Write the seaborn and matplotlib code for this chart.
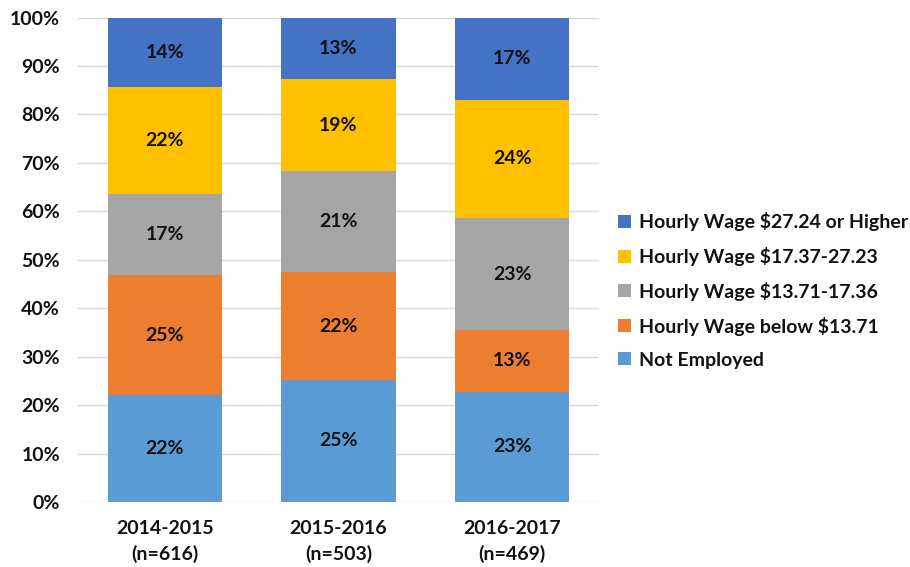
import numpy as np
import pandas as pd
import matplotlib
matplotlib.use("Agg")
import matplotlib.pyplot as plt
from matplotlib.patches import Patch
import seaborn as sns

# share of students per wage band (percent), bottom to top
years = ["2014-2015\n(n=616)", "2015-2016\n(n=503)", "2016-2017\n(n=469)"]
not_employed = [22.1, 25.2, 22.8]
below_1371 = [24.7, 22.2, 12.7]
wage_1371_1736 = [16.8, 20.9, 23.1]
wage_1737_2723 = [22.0, 19.0, 24.4]
wage_2724_up = [14.4, 12.7, 17.0]

series = ["Not Employed", "Hourly Wage below $13.71", "Hourly Wage $13.71-17.36",
          "Hourly Wage $17.37-27.23", "Hourly Wage $27.24 or Higher"]
colors = ["#5B9BD5", "#ED7D31", "#A5A5A5", "#FFC000", "#4472C4"]

df = pd.DataFrame({"year": years, series[0]: not_employed, series[1]: below_1371,
                   series[2]: wage_1371_1736, series[3]: wage_1737_2723,
                   series[4]: wage_2724_up})
cum = df[series].cumsum(axis=1)

sns.set_style("white")
plt.rcParams["font.family"] = ["Lato", "DejaVu Sans"]
plt.rcParams["font.weight"] = "bold"

fig = plt.figure(figsize=(9.1, 5.67), dpi=100)
ax = fig.add_axes([0.0857, 0.1146, 0.5725, 0.8545])

# draw cumulative totals from the top layer down so lower layers sit on top
for s, c in reversed(list(zip(series, colors))):
    sns.barplot(x=df["year"], y=cum[s], color=c, width=0.66, ax=ax,
                saturation=1, linewidth=0, zorder=2)

# segment labels
for i in range(len(years)):
    bottom = 0
    for s in series:
        v = df.loc[i, s]
        ax.text(i, bottom + v / 2, f"{v:.0f}%", ha="center", va="center",
                fontsize=14, fontweight="bold", color="#111111", zorder=3)
        bottom += v

ax.set_ylim(0, 100)
ax.set_xlim(-0.5, 2.5)
ax.set_yticks(np.arange(0, 101, 10))
ax.set_yticklabels([f"{t}%" for t in range(0, 101, 10)])
ax.yaxis.grid(True, color="#D9D9D9", linewidth=1)
ax.set_axisbelow(True)
for sp in ax.spines.values():
    sp.set_visible(False)
ax.tick_params(axis="both", length=0, labelsize=14, colors="#111111")
ax.tick_params(axis="y", pad=13)
ax.tick_params(axis="x", pad=13)
for lbl in ax.get_xticklabels():
    lbl.set_linespacing(1.5)
ax.set_xlabel("")
ax.set_ylabel("")

handles = [Patch(facecolor=c, edgecolor="none") for c in colors][::-1]
fig.legend(handles, series[::-1], loc="center left", bbox_to_anchor=(0.66, 0.488),
           frameon=False, fontsize=14, handlelength=0.65, handleheight=0.65,
           handletextpad=0.45, labelspacing=0.82, labelcolor="#111111")

fig.savefig("out.png", dpi=100)
